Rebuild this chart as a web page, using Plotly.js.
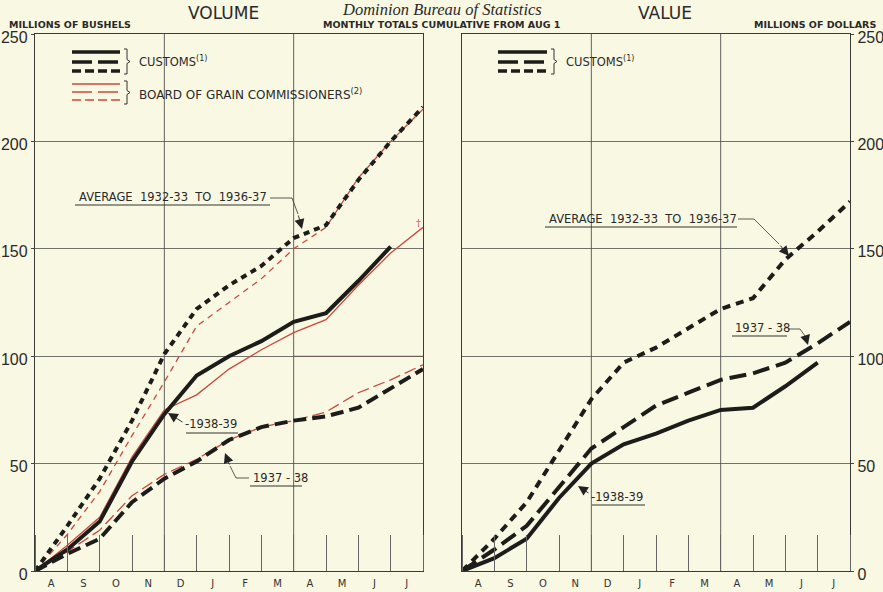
<!DOCTYPE html>
<html>
<head>
<meta charset="utf-8">
<script src="https://cdn.plot.ly/plotly-3.0.1.min.js"></script>
<style>
html,body{margin:0;padding:0;background:#f9f8e2;}
#chart{width:883px;height:592px;}
</style>
</head>
<body>
<div id="chart"></div>
<script>
// ---------- DATA ----------
const monthEnds = [0,1,2,3,4,5,6,7,8,9,10,11,12];
const monthLabelPos = [0.5,1.5,2.5,3.5,4.5,5.5,6.5,7.5,8.5,9.5,10.5,11.5];
const monthLabels = ['A','S','O','N','D','J','F','M','A','M','J','J'];
const yTicks = [0,50,100,150,200,250];
const fullGridMonths = [4,8];

// Volume, millions of bushels
const volCustomsAvg   = [0,21,43,70,101,122,133,142,155,161,182,200,216];
const volCustoms3738  = [0,8,15,32,43,51,61,67,70,72,76,85,94];
const volCustoms3839  = [0,10,23,51,73,91,100,107,116,120,135,151];
const volBoardAvg     = [0,17,37,63,88,114,125,136,150,160,183,200,215];
const volBoard3738    = [0,9,19,35,45,52,61,67,70,74,83,89,96];
const volBoard3839    = [0,12,25,53,75,82,94,103,111,117,133,148,160];
// Value, millions of dollars
const valCustomsAvg   = [0,15,32,56,80,97,104,113,122,127,145,158,172];
const valCustoms3738  = [0,10,21,39,57,67,77,83,89,92,97,106,116];
const valCustoms3839  = [0,6,15,34,50,59,64,70,75,76,86,97];

// ---------- STYLE ----------
const W = 883, H = 592;
const BG = '#f9f8e2';
const INK = '#1c1c1a';
const RED = '#c94a3e';
const GRID = '#505050';
const px = x => x / W;
const py = y => 1 - y / H;

function line(x, y, xa, ya, color, width, dash, name) {
  return {x: x.slice(0, y.length), y: y, xaxis: xa, yaxis: ya, type: 'scatter', mode: 'lines',
    name: name, showlegend: false, hoverinfo: 'skip',
    line: {color: color, width: width, dash: dash, shape: 'linear'}};
}

const traces = [
  line(monthEnds, volBoardAvg, 'x', 'y', RED, 1.3, '6px,5px', 'Board avg'),
  line(monthEnds, volBoard3738, 'x', 'y', RED, 1.3, '12px,5px', 'Board 1937-38'),
  line(monthEnds, volBoard3839, 'x', 'y', RED, 1.3, 'solid', 'Board 1938-39'),
  line(monthEnds, volCustomsAvg, 'x', 'y', INK, 4, '6px,5px', 'Customs avg'),
  line(monthEnds, volCustoms3738, 'x', 'y', INK, 4, '13px,6px', 'Customs 1937-38'),
  line(monthEnds, volCustoms3839, 'x', 'y', INK, 4, 'solid', 'Customs 1938-39'),
  line(monthEnds, valCustomsAvg, 'x2', 'y2', INK, 4, '8px,6px', 'Value avg'),
  line(monthEnds, valCustoms3738, 'x2', 'y2', INK, 4, '17px,7px', 'Value 1937-38'),
  line(monthEnds, valCustoms3839, 'x2', 'y2', INK, 4, 'solid', 'Value 1938-39')
];

const tickFont = {family: 'Liberation Sans Narrow, Liberation Sans, Arial', size: 16, color: '#2a2a2a'};
const monFont = {family: 'DejaVu Sans, Noto Sans', size: 10, color: '#333'};

function xAxis(domain, anchor) {
  return {domain: domain, anchor: anchor, range: [0, 12], fixedrange: true,
    tickmode: 'array', tickvals: monthLabelPos, ticktext: monthLabels, ticks: '',
    ticklabelstandoff: 3,
    tickfont: monFont, showgrid: false, zeroline: false,
    showline: true, mirror: true, linecolor: '#3a3a3a', linewidth: 1.2,
    minor: {tickmode: 'linear', tick0: 0, dtick: 1, ticks: 'inside', ticklen: 36,
            tickcolor: '#666', tickwidth: 1, showgrid: false}};
}
function yAxis(domain, anchor, side) {
  return {domain: domain, anchor: anchor, side: side, range: [0, 250], fixedrange: true,
    tickmode: 'array', tickvals: yTicks, ticks: 'outside', ticklen: 3, tickcolor: '#444',
    ticklabelshift: 3, ticklabelstandoff: 0,
    tickfont: tickFont, showgrid: true, gridcolor: GRID, gridwidth: 0.8, zeroline: false,
    showline: true, mirror: true, linecolor: '#3a3a3a', linewidth: 1.2};
}

const yDom = [py(571), py(34)];

// ---------- DECORATION ----------
const shapes = [];
// full-height month grid lines
[['x', 'y'], ['x2', 'y2']].forEach(([xa, ya]) => {
  fullGridMonths.forEach(m => shapes.push({type: 'line', xref: xa, yref: ya + ' domain',
    x0: m, x1: m, y0: 0, y1: 1, line: {color: GRID, width: 0.9}, layer: 'below'}));
});
// red overprint on the 100 line in the volume chart
shapes.push({type: 'line', xref: 'x', yref: 'y', x0: 8, x1: 12, y0: 100, y1: 100,
  line: {color: RED, width: 0.8}, layer: 'below'});

function seg(x0, y0, x1, y1, color, width, dash) {
  shapes.push({type: 'line', xref: 'paper', yref: 'paper', x0: px(x0), y0: py(y0), x1: px(x1), y1: py(y1),
    line: {color: color, width: width, dash: dash || 'solid'}});
}
function path(pts, color, width) {
  const d = pts.map((p, i) => (i ? 'L' : 'M') + px(p[0]) + ',' + py(p[1])).join(' ');
  shapes.push({type: 'path', xref: 'paper', yref: 'paper', path: d, line: {color: color, width: width}});
}
function bracket(x, y0, y1) {
  const m = (y0 + y1) / 2;
  path([[x, y0], [x + 3, y0], [x + 3, m - 2], [x + 6, m], [x + 3, m + 2], [x + 3, y1], [x, y1]], '#333', 1);
}

// legend: volume
seg(72, 52, 120, 52, INK, 3.5);
seg(72, 62, 120, 62, INK, 3.5, '20px,6px');
seg(72, 71, 120, 71, INK, 3.5, '9px,4px');
bracket(124, 49, 74);
seg(72, 84, 120, 84, RED, 1.3);
seg(72, 92, 120, 92, RED, 1.3, '20px,6px');
seg(72, 100, 120, 100, RED, 1.3, '9px,4px');
bracket(124, 81, 104);
// legend: value
seg(498, 52, 547, 52, INK, 3.5);
seg(498, 62, 547, 62, INK, 3.5, '20px,6px');
seg(498, 71, 547, 71, INK, 3.5, '9px,4px');
bracket(551, 49, 74);

// leaders + underlines
seg(75, 205, 270, 205, '#333', 1);
path([[270, 198], [292, 198], [298, 214]], '#333', 0.8);
seg(186, 433, 238, 433, '#333', 1);
seg(250, 486, 302, 486, '#333', 1);
path([[249, 478], [236, 478], [230, 466]], '#333', 0.8);
seg(545, 227, 737, 227, '#333', 1);
path([[738, 219], [754, 219], [779, 244]], '#333', 0.8);
seg(732, 336, 787, 336, '#333', 1);
path([[788, 329], [800, 329], [805, 336]], '#333', 0.8);
seg(592, 505, 645, 505, '#333', 1);

const hdr = {family: 'DejaVu Sans, Noto Sans', color: '#2a2a2a'};
function txt(x, y, s, size, opts) {
  return Object.assign({xref: 'paper', yref: 'paper', x: px(x), y: py(y), text: s, showarrow: false,
    xanchor: 'left', yanchor: 'middle', font: Object.assign({}, hdr, {size: size})}, opts || {});
}
function arrow(tipX, tipY, tailX, tailY) {
  return {xref: 'paper', yref: 'paper', x: px(tipX), y: py(tipY), ax: tailX - tipX, ay: tailY - tipY,
    axref: 'pixel', ayref: 'pixel', text: '', showarrow: true, arrowhead: 2, arrowsize: 2.2,
    arrowwidth: 0.9, arrowcolor: '#222', standoff: 0, startstandoff: 0};
}

const annotations = [
  txt(223, 13, 'VOLUME', 17, {xanchor: 'center'}),
  txt(665, 13, 'VALUE', 17, {xanchor: 'center'}),
  txt(442, 9, '<i>Dominion Bureau of Statistics</i>', 16.5,
      {xanchor: 'center', font: {family: 'Liberation Serif, DejaVu Serif', size: 16.5, color: '#2a2a2a'}}),
  txt(7, 25, '<b>MILLIONS OF BUSHELS</b>', 9.5),
  txt(442, 25, '<b>MONTHLY TOTALS CUMULATIVE FROM AUG 1</b>', 9.5, {xanchor: 'center'}),
  txt(878, 25, '<b>MILLIONS OF DOLLARS</b>', 9.5, {xanchor: 'right'}),
  txt(137, 62, 'CUSTOMS<sup>(1)</sup>', 11.5),
  txt(137, 94, 'BOARD OF GRAIN COMMISSIONERS<sup>(2)</sup>', 12),
  txt(564, 61, 'CUSTOMS<sup>(1)</sup>', 11.5),
  txt(77, 197, 'AVERAGE  1932-33  TO  1936-37', 11.5),
  txt(183, 424, '-1938-39', 11.5),
  txt(251, 478, '1937 - 38', 11.5),
  txt(547, 219, 'AVERAGE  1932-33  TO  1936-37', 11.5),
  txt(733, 328, '1937 - 38', 11.5),
  txt(589, 497, '-1938-39', 11.5),
  txt(418, 222, '†', 10, {xanchor: 'center', font: {family: 'DejaVu Serif', size: 10, color: RED}}),
  arrow(302, 229, 298, 214),
  arrow(168, 413, 184, 423),
  arrow(225, 453, 230, 466),
  arrow(789, 256, 779, 244),
  arrow(808, 345, 805, 335),
  arrow(578, 486, 590, 494)
];

const layout = {
  width: W, height: H,
  margin: {l: 0, r: 0, t: 0, b: 0},
  paper_bgcolor: BG, plot_bgcolor: BG,
  showlegend: false,
  xaxis: xAxis([px(35), px(423)], 'y'),
  yaxis: yAxis(yDom, 'x', 'left'),
  xaxis2: xAxis([px(462), px(850)], 'y2'),
  yaxis2: yAxis(yDom, 'x2', 'right'),
  shapes: shapes,
  annotations: annotations
};

Plotly.newPlot('chart', traces, layout, {displayModeBar: false, staticPlot: true});
</script>
</body>
</html>
